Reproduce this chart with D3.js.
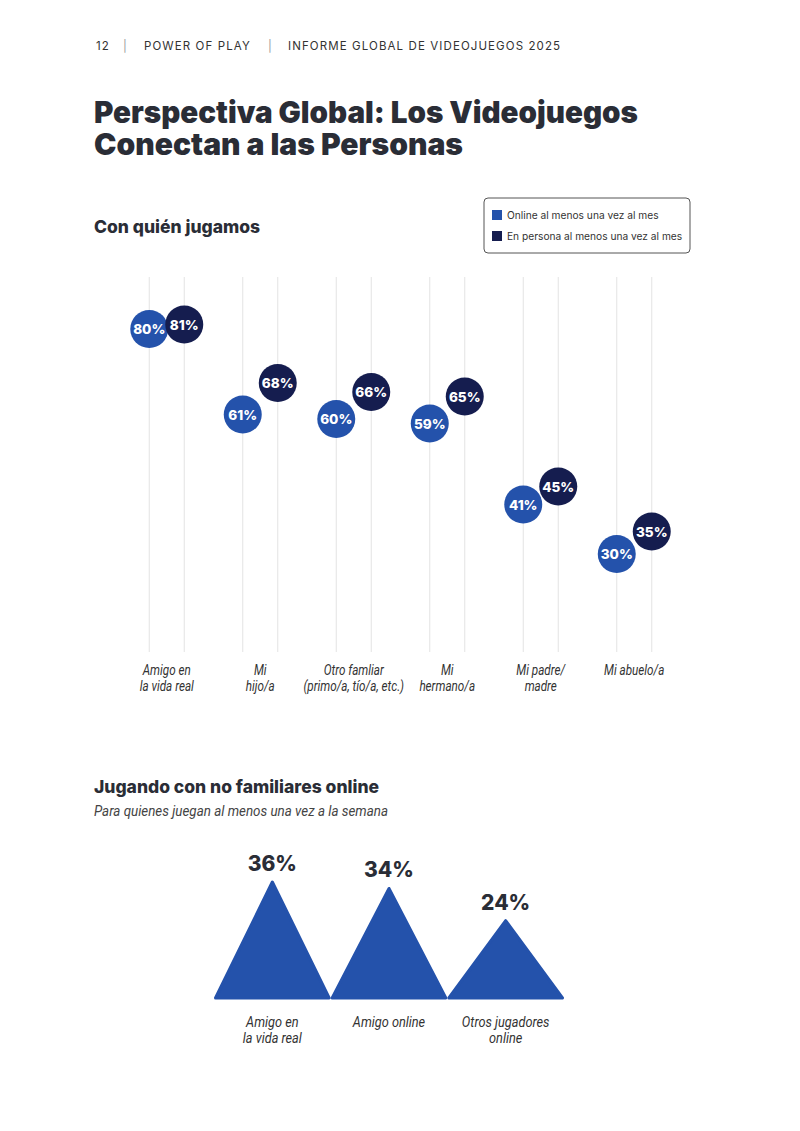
<!DOCTYPE html>
<html>
<head>
<meta charset="utf-8">
<script src="https://cdn.jsdelivr.net/npm/d3@7"></script>
<style>
  body { margin: 0; background: #fff; }
  svg { display: block; }
</style>
</head>
<body>
<script>
// data
var categories = ["Amigo en|la vida real", "Mi|hijo/a", "Otro famliar|(primo/a, tío/a, etc.)", "Mi|hermano/a", "Mi padre/|madre", "Mi abuelo/a"];
var online = [80, 61, 60, 59, 41, 30];
var enPersona = [81, 68, 66, 65, 45, 35];
var seriesNames = ["Online al menos una vez al mes", "En persona al menos una vez al mes"];

var mountainCats = ["Amigo en|la vida real", "Amigo online", "Otros jugadores|online"];
var mountainVals = [36, 34, 24];

var BLUE = "#2452ab", NAVY = "#151d4f", INK = "#2a2d36";
var italicFont = "'Roboto', sans-serif";
var heavy = "'Inter', 'Roboto', sans-serif";
var SQUEEZE = 0.8; // condensed look for the italic labels

var svg = d3.select("body").append("svg")
    .attr("width", 800).attr("height", 1131);

// header
[["12", 96, "#333"], ["|", 123, "#999"], ["POWER OF PLAY", 144, "#333"], ["|", 268, "#999"], ["INFORME GLOBAL DE VIDEOJUEGOS 2025", 288, "#333"]].forEach(function (p) {
    svg.append("text").attr("x", p[1]).attr("y", 50)
        .attr("font-family", "'Inter', 'Roboto', sans-serif")
        .attr("font-size", 11.5)
        .attr("letter-spacing", 1.1)
        .attr("fill", p[2]).text(p[0]);
});

// title
function fitText(t, w) {
    t.attr("textLength", w).attr("lengthAdjust", "spacingAndGlyphs");
}
var t1 = svg.append("text").attr("x", 94).attr("y", 123)
    .attr("font-family", heavy).attr("font-weight", 900).attr("font-size", 30)
    .attr("fill", INK).text("Perspectiva Global: Los Videojuegos");
fitText(t1, 544);
var t2 = svg.append("text").attr("x", 94).attr("y", 155)
    .attr("font-family", heavy).attr("font-weight", 900).attr("font-size", 30)
    .attr("fill", INK).text("Conectan a las Personas");
fitText(t2, 369);

// section 1
svg.append("text").attr("x", 94).attr("y", 233)
    .attr("font-family", heavy).attr("font-weight", 800).attr("font-size", 17.5)
    .attr("fill", INK).text("Con quién jugamos");

// legend
var lg = svg.append("g").attr("transform", "translate(484,198)");
lg.append("rect").attr("width", 206).attr("height", 55).attr("rx", 4)
    .attr("fill", "#fff").attr("stroke", "#555").attr("stroke-width", 1);
seriesNames.forEach(function (n, i) {
    lg.append("rect").attr("x", 8).attr("y", 12 + i * 21).attr("width", 10).attr("height", 10)
        .attr("fill", i == 0 ? BLUE : NAVY);
    lg.append("text").attr("x", 23).attr("y", 21 + i * 21)
        .attr("font-family", "'Inter', 'Roboto', sans-serif").attr("font-size", 10.2)
        .attr("fill", "#333").text(n);
});

var x = d3.scaleBand().domain(categories).range([120, 681]).paddingInner(0).paddingOuter(0);
var y = d3.scaleLinear().domain([0, 100]).range([689, 239]);
var off = 17.5;

var groups = svg.append("g").selectAll("g.cat")
    .data(categories)
    .enter().append("g")
    .attr("class", "cat")
    .attr("transform", function (d) { return "translate(" + (x(d) + x.bandwidth() / 2) + ",0)"; });

groups.each(function (d, i) {
    var g = d3.select(this);
    [-off, off].forEach(function (dx) {
        g.append("line").attr("x1", dx).attr("x2", dx).attr("y1", 277).attr("y2", 652)
            .attr("stroke", "#e3e3e3").attr("stroke-width", 1);
    });
    var lab = g.append("text").attr("text-anchor", "middle")
        .attr("transform", "scale(" + SQUEEZE + ",1)")
        .attr("font-family", italicFont).attr("font-style", "italic").attr("font-size", 14.6)
        .attr("fill", "#333");
    d.split("|").forEach(function (l, j) {
        lab.append("tspan").attr("x", 0).attr("y", 675 + j * 16).text(l);
    });
    var pts = [[-off, online[i], BLUE], [off, enPersona[i], NAVY]];
    pts.forEach(function (p) {
        g.append("circle").attr("cx", p[0]).attr("cy", y(p[1])).attr("r", 19).attr("fill", p[2]);
        g.append("text").attr("x", p[0]).attr("y", y(p[1]) + 5)
            .attr("text-anchor", "middle").attr("font-family", heavy).attr("font-weight", 800)
            .attr("font-size", 13.5).attr("fill", "#fff").text(p[1] + "%");
    });
});

// section 2
svg.append("text").attr("x", 94).attr("y", 793)
    .attr("font-family", heavy).attr("font-weight", 800).attr("font-size", 17.5)
    .attr("fill", INK).text("Jugando con no familiares online");
var sub = svg.append("text").attr("x", 94).attr("y", 816)
    .attr("font-family", italicFont).attr("font-style", "italic").attr("font-size", 14)
    .attr("fill", "#444").text("Para quienes juegan al menos una vez a la semana");
fitText(sub, 294);

var mx = d3.scaleBand().domain(mountainCats).range([214, 564]);
var my = d3.scaleLinear().domain([0, 36]).range([998, 882]);

var mg = svg.append("g").selectAll("g.mtn")
    .data(mountainCats)
    .enter().append("g")
    .attr("class", "mtn");

mg.each(function (d, i) {
    var g = d3.select(this);
    var x0 = mx(d), x1 = mx(d) + mx.bandwidth(), xc = x0 + mx.bandwidth() / 2;
    var pk = my(mountainVals[i]);
    g.append("path")
        .attr("d", "M" + (x0 + 1.5) + "," + my(0) + "L" + xc + "," + pk + "L" + (x1 - 1.5) + "," + my(0) + "Z")
        .attr("fill", BLUE).attr("stroke", BLUE).attr("stroke-width", 3).attr("stroke-linejoin", "round");
    g.append("text").attr("x", xc).attr("y", pk - 11).attr("text-anchor", "middle")
        .attr("font-family", heavy).attr("font-weight", 800).attr("font-size", 21)
        .attr("fill", INK).text(mountainVals[i] + "%");
    var lab = g.append("g").attr("transform", "translate(" + xc + ",0)")
        .append("text").attr("text-anchor", "middle")
        .attr("transform", "scale(0.84,1)")
        .attr("font-family", italicFont).attr("font-style", "italic").attr("font-size", 15.2)
        .attr("fill", "#333");
    d.split("|").forEach(function (l, j) {
        lab.append("tspan").attr("x", 0).attr("y", 1027 + j * 16.5).text(l);
    });
});
</script>
</body>
</html>
